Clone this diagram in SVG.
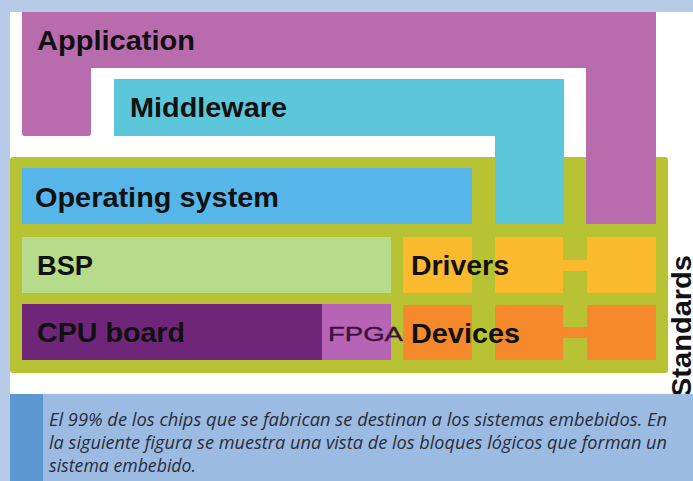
<svg xmlns="http://www.w3.org/2000/svg" width="693" height="481" viewBox="0 0 693 481">
<style>
.lbl{font-family:"Liberation Sans",Arial,sans-serif;font-weight:bold;font-size:27px;fill:#111;}
.cap{font-family:"Open Sans","Noto Sans",sans-serif;font-style:italic;font-size:17.5px;fill:#2b2d3a;}
</style>
<rect x="0" y="0" width="693" height="481" fill="#ffffff"/>
<rect x="0" y="0" width="693" height="12" fill="#b5cbe7"/>
<rect x="0" y="0" width="10" height="481" fill="#b5cbe7"/>

<g id="standards">
<text class="lbl" font-size="22" transform="translate(691,397) rotate(-90)" textLength="142" lengthAdjust="spacingAndGlyphs">Standards</text>
</g>

<g id="platform">
<rect x="10" y="157" width="658" height="216" rx="3" fill="#b7c333"/>
</g>

<g id="application">
<path d="M22 12H656V224H586V68H91V133Q91 136 88 136H25Q22 136 22 133Z" fill="#b96cad"/>
<text class="lbl" x="37" y="50" textLength="158" lengthAdjust="spacingAndGlyphs">Application</text>
</g>

<g id="middleware">
<path d="M114 79H564V224H495V136H114Z" fill="#5cc6da"/>
<text class="lbl" x="130" y="117" textLength="157" lengthAdjust="spacingAndGlyphs">Middleware</text>
</g>

<g id="os">
<rect x="22" y="168" width="450" height="56" fill="#57b6e9"/>
<text class="lbl" x="35" y="207" textLength="244" lengthAdjust="spacingAndGlyphs">Operating system</text>
</g>

<g id="bsp">
<rect x="22" y="237" width="369" height="56" fill="#b6db8a"/>
<text class="lbl" x="37" y="275" textLength="56" lengthAdjust="spacingAndGlyphs">BSP</text>
</g>

<g id="cpu">
<rect x="22" y="304" width="300" height="56" fill="#6f2679"/>
<text class="lbl" x="37" y="342" textLength="148" lengthAdjust="spacingAndGlyphs">CPU board</text>
</g>

<g id="fpga">
<rect x="322" y="304" width="69" height="56" fill="#b764b6"/>
<text x="328" y="341" font-family="Liberation Sans,Arial,sans-serif" font-size="21" fill="#3a1242" stroke="#3a1242" stroke-width="0.4" textLength="75" lengthAdjust="spacingAndGlyphs">FPGA</text>
</g>

<g id="drivers">
<rect x="403" y="237" width="69" height="56" fill="#fbb92e"/>
<rect x="495" y="237" width="68" height="56" fill="#fbb92e"/>
<rect x="587" y="237" width="69" height="56" fill="#fbb92e"/>
<text class="lbl" x="411" y="275" textLength="98" lengthAdjust="spacingAndGlyphs">Drivers</text>
</g>

<g id="devices">
<rect x="403" y="305" width="69" height="55" fill="#f5892b"/>
<rect x="495" y="305" width="68" height="55" fill="#f5892b"/>
<rect x="587" y="305" width="69" height="55" fill="#f5892b"/>
<text class="lbl" x="411" y="343" textLength="109" lengthAdjust="spacingAndGlyphs">Devices</text>
</g>

<g id="connectors">
<rect x="562" y="260" width="26" height="11" fill="#fbb92e"/>
<rect x="562" y="327" width="26" height="11" fill="#f5892b"/>
</g>

<g id="caption">
<rect x="10" y="394" width="683" height="87" fill="#9bbbe2"/>
<rect x="10" y="394" width="33" height="87" fill="#5b97d1"/>
<text class="cap" x="49" y="426" textLength="618" lengthAdjust="spacingAndGlyphs">El 99% de los chips que se fabrican se destinan a los sistemas embebidos. En</text>
<text class="cap" x="49" y="449" textLength="618" lengthAdjust="spacingAndGlyphs">la siguiente figura se muestra una vista de los bloques lógicos que forman un</text>
<text class="cap" x="49" y="472" textLength="147" lengthAdjust="spacingAndGlyphs">sistema embebido.</text>
</g>
</svg>
